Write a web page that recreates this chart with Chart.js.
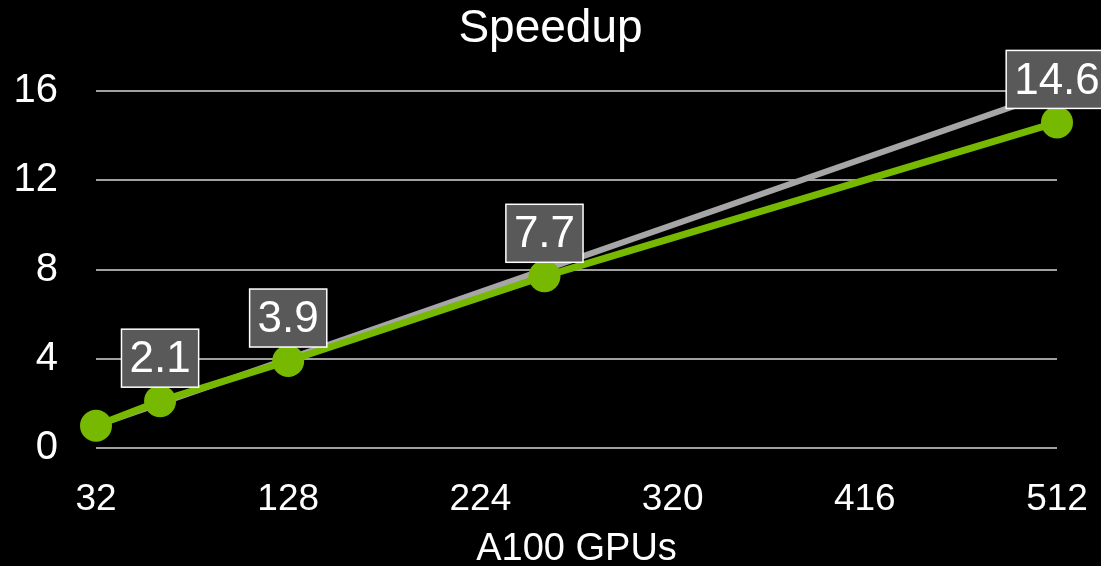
<!DOCTYPE html>
<html>
<head>
<meta charset="utf-8">
<script src="https://cdn.jsdelivr.net/npm/chart.js@4/dist/chart.umd.min.js"></script>
<style>
  html, body { margin: 0; padding: 0; background: #000; }
  #wrap { width: 1101px; height: 566px; }
</style>
</head>
<body>
<div id="wrap"><canvas id="myChart" width="1101" height="566"></canvas></div>
<script>
// GPU counts and measured speedup
const gpus = [32, 64, 128, 256, 512];
const speedup = [1.0, 2.1, 3.9, 7.7, 14.6];
// linear scaling reference (speedup relative to 32 GPUs)
const ideal = [1, 2, 4, 8, 16];
// which measured points get a value box
const labelled = [false, true, true, true, true];

const xTicks = [32, 128, 224, 320, 416, 512];
const yTicks = [0, 4, 8, 12, 16];

const FONT = "'Liberation Sans', Arial, sans-serif";
const GREEN = '#76b900';

// value boxes above the measured points
const valueBoxes = {
    id: 'valueBoxes',
    afterDatasetsDraw(chart) {
        const ctx = chart.ctx;
        const meta = chart.getDatasetMeta(0);
        ctx.save();
        ctx.font = '44px ' + FONT;
        ctx.textAlign = 'center';
        ctx.textBaseline = 'middle';
        meta.data.forEach((pt, i) => {
            if (!labelled[i]) return;
            const text = speedup[i].toFixed(1);
            const w = ctx.measureText(text).width + 16;
            const h = 58;
            const x = pt.x - w / 2;
            const y = pt.y - 14 - h;
            ctx.fillStyle = '#595959';
            ctx.fillRect(x, y, w, h);
            ctx.strokeStyle = '#ffffff';
            ctx.lineWidth = 1.5;
            ctx.strokeRect(x, y, w, h);
            ctx.fillStyle = '#ffffff';
            ctx.fillText(text, pt.x, y + h / 2 + 2);
        });
        ctx.restore();
    }
};

const ctx = document.getElementById('myChart');
new Chart(ctx, {
    type: 'line',
    data: {
        datasets: [
            {
                label: 'Measured',
                data: gpus.map((g, i) => ({ x: g, y: speedup[i] })),
                borderColor: GREEN,
                backgroundColor: GREEN,
                borderWidth: 7,
                pointRadius: 16,
                pointBorderWidth: 0,
                pointBackgroundColor: GREEN,
                clip: false,
                order: 0,
            },
            {
                label: 'Linear',
                data: gpus.map((g, i) => ({ x: g, y: ideal[i] })),
                borderColor: '#a6a6a6',
                borderWidth: 6,
                pointRadius: 0,
                clip: false,
                order: 1,
            },
        ],
    },
    options: {
        responsive: false,
        animation: false,
        events: [],
        layout: { padding: 0 },
        plugins: {
            legend: { display: false },
            tooltip: { enabled: false },
            title: {
                display: true,
                text: 'Speedup',
                color: '#ffffff',
                font: { family: FONT, size: 46, weight: 'normal' },
                padding: { top: 2, bottom: 34 },
            },
        },
        scales: {
            x: {
                type: 'linear',
                min: 32,
                max: 512,
                afterBuildTicks: (scale) => { scale.ticks = xTicks.map(v => ({ value: v })); },
                afterFit: (scale) => {
                    scale.height = 118;
                    scale.paddingRight = 44;
                },
                grid: { display: false },
                border: { display: false },
                ticks: {
                    color: '#ffffff',
                    padding: 22,
                    font: { family: FONT, size: 37 },
                },
                title: {
                    display: true,
                    text: 'A100 GPUs',
                    color: '#ffffff',
                    font: { family: FONT, size: 38 },
                    padding: { top: 0, bottom: -6 },
                },
            },
            y: {
                min: 0,
                max: 16,
                afterBuildTicks: (scale) => { scale.ticks = yTicks.map(v => ({ value: v })); },
                afterFit: (scale) => { scale.width = 96; },
                grid: { color: '#a0a0a0', lineWidth: 2, drawTicks: false },
                border: { display: false },
                ticks: {
                    color: '#ffffff',
                    padding: 38,
                    font: { family: FONT, size: 40 },
                },
            },
        },
    },
    plugins: [valueBoxes],
});
</script>
</body>
</html>
